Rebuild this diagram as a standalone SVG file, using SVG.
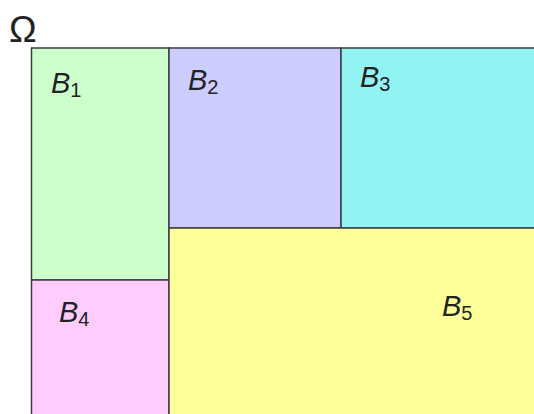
<svg xmlns="http://www.w3.org/2000/svg" width="534" height="414" viewBox="0 0 534 414">
<style>
.box{stroke:#3c3c44;stroke-width:1.5}
.lbl{font-family:"Liberation Sans",Arial,sans-serif;font-size:29px;font-style:italic;fill:#222}
.sub{font-style:normal;font-size:20px}
.om{font-family:"Liberation Sans",Arial,sans-serif;font-size:37px;fill:#222}
</style>
<rect width="534" height="414" fill="#ffffff"/>
<text class="om" x="9" y="42">Ω</text>
<g id="B1"><rect class="box" x="31.5" y="48" width="137.5" height="232" fill="#ccffcc"/><text class="lbl" x="51" y="93">B<tspan class="sub" dy="4">1</tspan></text></g>
<g id="B2"><rect class="box" x="169" y="48" width="172" height="180" fill="#ccccff"/><text class="lbl" x="188" y="90">B<tspan class="sub" dy="4">2</tspan></text></g>
<g id="B3"><rect class="box" x="341" y="48" width="200" height="180" fill="#92f4f2"/><text class="lbl" x="360" y="87">B<tspan class="sub" dy="4">3</tspan></text></g>
<g id="B4"><rect class="box" x="31.5" y="280" width="137.5" height="140" fill="#ffccff"/><text class="lbl" x="59" y="322">B<tspan class="sub" dy="4">4</tspan></text></g>
<g id="B5"><rect class="box" x="169" y="228" width="372" height="192" fill="#ffff99"/><text class="lbl" x="442" y="316">B<tspan class="sub" dy="4">5</tspan></text></g>
</svg>
